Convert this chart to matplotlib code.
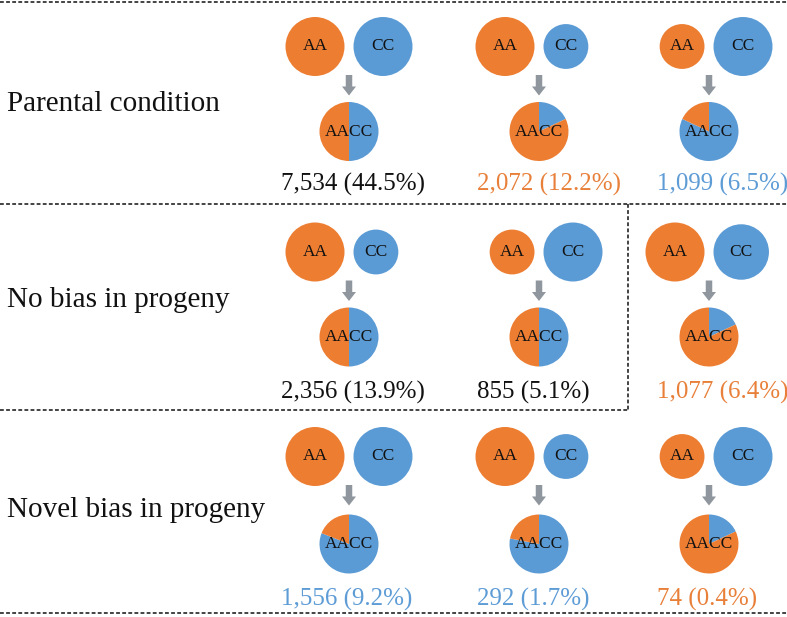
import matplotlib
matplotlib.use("Agg")
import matplotlib.pyplot as plt
from matplotlib.patches import Circle

plt.rcParams['font.family'] = ['Liberation Serif', 'DejaVu Serif']

# ---------------- data ----------------
row_labels = ["Parental condition", "No bias in progeny", "Novel bias in progeny"]
counts = [[7534, 2072, 1099],
          [2356, 855, 1077],
          [1556, 292, 74]]
percents = [[44.5, 12.2, 6.5],
            [13.9, 5.1, 6.4],
            [9.2, 1.7, 0.4]]
# relative parental expression (circle size, 1 = large)
aa_size = [[1.0, 1.0, 0.76],
           [1.0, 0.76, 1.0],
           [1.0, 1.0, 0.76]]
cc_size = [[1.0, 0.76, 1.0],
           [0.76, 1.0, 0.94],
           [1.0, 0.76, 1.0]]
# share of CC in the progeny (AACC) pie
cc_share = [[0.50, 0.18, 0.82],
            [0.50, 0.50, 0.18],
            [0.81, 0.78, 0.18]]
label_tone = [["black", "orange", "blue"],
              ["black", "black", "orange"],
              ["blue", "blue", "orange"]]

# ---------------- style / layout ----------------
ORANGE = "#ED7D31"
BLUE = "#5B9BD5"
TONES = {"black": "#111111", "orange": "#E8803A", "blue": "#5E9CD6"}
ARROW = "#8F969E"
W, H = 787, 617
R_BIG = 29.5
R_PIE = 29.5
GAP = 4.5
col_x = [349, 539, 709]
text_left = [281, 477, 657]
parent_y = [46.5, 252, 456.5]
pie_y = [131.5, 337, 544]
text_y = [184, 392, 599]
label_y = [104, 300, 510]

fig = plt.figure(figsize=(W / 100, H / 100), dpi=100)
ax = fig.add_axes([0, 0, 1, 1])


def Y(y):
    return H - y


for r in range(3):
    ax.text(7, Y(label_y[r]), row_labels[r], fontsize=21, va='center', ha='left', color='#111111')
    for c in range(3):
        cx = col_x[c]
        ra = R_BIG * aa_size[r][c]
        rc = R_BIG * cc_size[r][c]
        ax.add_patch(Circle((cx - ra - GAP, Y(parent_y[r])), ra, color=ORANGE, lw=0))
        ax.add_patch(Circle((cx + rc + GAP, Y(parent_y[r])), rc, color=BLUE, lw=0))
        ax.text(cx - ra - GAP, Y(parent_y[r]), "AA", fontsize=12.5, ha='center', va='center', color='#111111')
        ax.text(cx + rc + GAP, Y(parent_y[r]), "CC", fontsize=12.5, ha='center', va='center', color='#111111')
        # arrow
        ax.arrow(cx, Y(parent_y[r] + 28.5), 0, -20.5, width=6.5, head_width=14, head_length=9,
                 length_includes_head=True, color=ARROW, lw=0)
        # progeny pie
        share = cc_share[r][c]
        ax.pie([share, 1 - share], colors=[BLUE, ORANGE], startangle=90, counterclock=False,
               center=(cx, Y(pie_y[r])), radius=R_PIE, wedgeprops=dict(linewidth=0), frame=True)
        ax.text(cx, Y(pie_y[r]), "AACC", fontsize=12.5, ha='center', va='center', color='#111111')
        ax.text(text_left[c], Y(text_y[r]), f"{counts[r][c]:,} ({percents[r][c]}%)", fontsize=18,
                ha='left', va='center', color=TONES[label_tone[r][c]])

# dashed separators
dash = dict(color='#111111', lw=1.1, ls=(0, (2.5, 1.5)))
ax.plot([0, W], [Y(1.5), Y(1.5)], **dash)
ax.plot([0, W], [Y(204), Y(204)], **dash)
ax.plot([0, 628], [Y(410), Y(410)], **dash)
ax.plot([628, 628], [Y(204), Y(410)], **dash)
ax.plot([0, W], [Y(613), Y(613)], **dash)

ax.set_xlim(0, W)
ax.set_ylim(0, H)
ax.set_aspect('auto')
ax.axis('off')
fig.savefig("out.png", dpi=100)
